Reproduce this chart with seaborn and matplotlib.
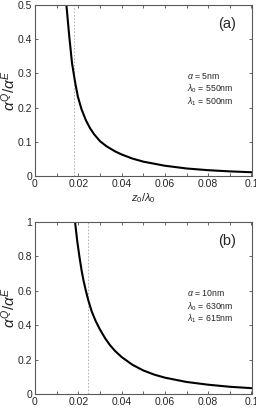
import matplotlib
matplotlib.use("Agg")
import matplotlib.pyplot as plt
import seaborn as sns
from matplotlib.ticker import MultipleLocator, FormatStrFormatter

# panel (a): a = 5nm, lambda0 = 550nm, lambda1 = 500nm
x_a = [0.0145, 0.0158, 0.0171, 0.0185, 0.0198, 0.0215, 0.0235, 0.0255, 0.0273, 0.030,
       0.033, 0.037, 0.040, 0.045, 0.050, 0.060, 0.070, 0.080, 0.090, 0.100]
y_a = [0.50, 0.41, 0.33, 0.275, 0.232, 0.195, 0.163, 0.139, 0.122, 0.102,
       0.087, 0.072, 0.063, 0.051, 0.042, 0.030, 0.022, 0.017, 0.0135, 0.011]
cut_a = 0.018
notes_a = [r'$\alpha$ = 5nm', r'$\lambda_0$ = 550nm', r'$\lambda_1$ = 500nm']

# panel (b): a = 10nm, lambda0 = 630nm, lambda1 = 615nm
x_b = [0.0185, 0.0195, 0.0205, 0.0215, 0.0224, 0.0235, 0.0245, 0.0262, 0.028, 0.030,
       0.0325, 0.0347, 0.037, 0.040, 0.045, 0.050, 0.055, 0.060, 0.070, 0.080, 0.090, 0.100]
y_b = [1.00, 0.89, 0.80, 0.72, 0.66, 0.60, 0.55, 0.48, 0.425, 0.375,
       0.322, 0.283, 0.25, 0.215, 0.17, 0.137, 0.113, 0.095, 0.07, 0.054, 0.042, 0.034]
cut_b = 0.0247
notes_b = [r'$\alpha$ = 10nm', r'$\lambda_0$ = 630nm', r'$\lambda_1$ = 615nm']

sns.set_style('ticks')
plt.rcParams['font.family'] = ['Liberation Sans', 'DejaVu Sans']
plt.rcParams['mathtext.fontset'] = 'custom'
plt.rcParams['mathtext.rm'] = 'Liberation Sans'
plt.rcParams['mathtext.it'] = 'Liberation Sans:italic'

fig = plt.figure(figsize=(2.56, 4.08), dpi=100)
ax_a = fig.add_axes([35 / 256, 1 - 176 / 408, 216.5 / 256, 171 / 408])
ax_b = fig.add_axes([35 / 256, 1 - 394 / 408, 216.5 / 256, 172 / 408])

panels = [
    (ax_a, x_a, y_a, cut_a, notes_a, '(a)', 0.5, 0.1),
    (ax_b, x_b, y_b, cut_b, notes_b, '(b)', 1.0, 0.2),
]

for ax, xs, ys, cut, notes, tag, ymax, ystep in panels:
    ax.axvline(cut, color='0.65', lw=0.6, ls=(0, (2, 2)))
    sns.lineplot(x=xs, y=ys, ax=ax, color='black', lw=1.5)
    ax.set_xlim(0, 0.1)
    ax.set_ylim(0, ymax)
    ax.xaxis.set_major_locator(MultipleLocator(0.02))
    ax.xaxis.set_minor_locator(MultipleLocator(0.01))
    ax.yaxis.set_major_locator(MultipleLocator(ystep))
    ax.xaxis.set_major_formatter(FormatStrFormatter('%g'))
    ax.yaxis.set_major_formatter(FormatStrFormatter('%g'))
    ax.tick_params(which='both', direction='in', top=True, right=True,
                   length=2.5, width=0.6, labelsize=7.5, pad=2, color='0.3')
    for sp in ax.spines.values():
        sp.set_linewidth(0.8)
        sp.set_color('0.35')
    ax.set_ylabel(r'$\alpha^Q/\alpha^E$', fontsize=11, labelpad=0)
    ax.set_xlabel(r'$z_0/\lambda_0$', fontsize=8, labelpad=2)
    ax.text(0.0888, ymax * 0.89, tag, fontsize=10.5, ha='center', va='center')
    for i, note in enumerate(notes):
        ax.text(0.0704, ymax * (0.585 - 0.075 * i), note, fontsize=6.3,
                ha='left', va='center')

fig.savefig('out.png', dpi=100)
